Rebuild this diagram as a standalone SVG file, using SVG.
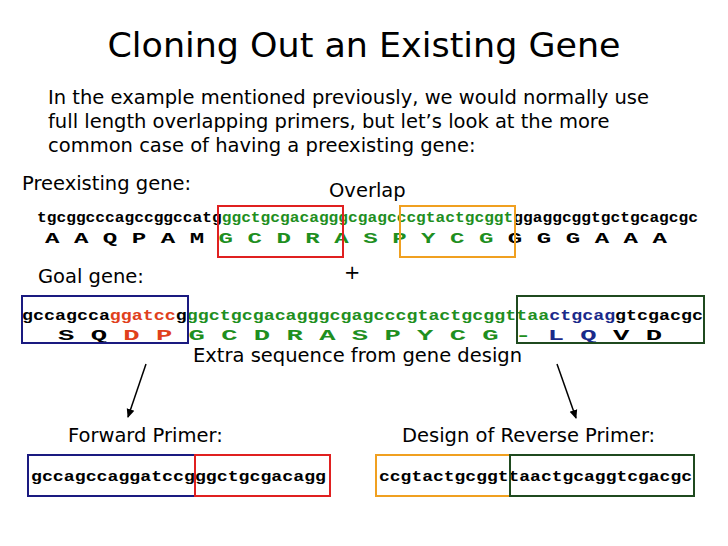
<svg xmlns="http://www.w3.org/2000/svg" width="728" height="546" viewBox="0 0 728 546">
<style>
.s{font-family:"DejaVu Sans","Open Sans",sans-serif;fill:#000}
.m{font-family:"Liberation Mono","Courier New",monospace;font-weight:bold;font-size:15px}
.g{fill:#1f8f1f}.r{fill:#e0401c}.b{fill:#1a2a8a}.k{fill:#000}
.bx{fill:none;stroke-width:2}
</style>
<defs><marker id="ah" markerWidth="10" markerHeight="10" refX="8" refY="5" orient="auto" markerUnits="userSpaceOnUse"><path d="M0,1 L9,5 L0,9 z" fill="#000"/></marker></defs>
<rect width="728" height="546" fill="#fff"/>
<text class="s" x="364" y="57" font-size="33" text-anchor="middle" textLength="513" lengthAdjust="spacingAndGlyphs">Cloning Out an Existing Gene</text>
<g class="s" font-size="19.5">
<text x="48" y="104">In the example mentioned previously, we would normally use</text>
<text x="48" y="128">full length overlapping primers, but let’s look at the more</text>
<text x="48" y="152">common case of having a preexisting gene:</text>
<text x="22" y="190">Preexisting gene:</text>
<text x="329" y="197">Overlap</text>
<text x="344" y="279">+</text>
<text x="38" y="283">Goal gene:</text>
<text x="193" y="362">Extra sequence from gene design</text>
<text x="68" y="442">Forward Primer:</text>
<text x="402" y="442">Design of Reverse Primer:</text>
</g>
<g id="preexisting">
<text class="m" x="37" y="222" textLength="661" lengthAdjust="spacingAndGlyphs"><tspan class="k">tgcggcccagccggccatg</tspan><tspan class="g">ggctgcgacagggcgagcccgtactgcggt</tspan><tspan class="k">ggaggcggtgctgcagcgc</tspan></text>
<text class="m" x="45" y="243" textLength="622" lengthAdjust="spacingAndGlyphs"><tspan class="k">A  A  Q  P  A  M  </tspan><tspan class="g">G  C  D  R  A  S  P  Y  C  G  </tspan><tspan class="k">G  G  G  A  A  A</tspan></text>
<rect class="bx" x="218" y="206" width="125" height="51" stroke="#e02020"/>
<rect class="bx" x="400" y="206" width="115" height="51" stroke="#f0a020"/>
</g>
<g id="goal">
<text class="m" x="22" y="320" textLength="681" lengthAdjust="spacingAndGlyphs"><tspan class="k">gccagcca</tspan><tspan class="r">ggatcc</tspan><tspan class="k">g</tspan><tspan class="g">ggctgcgacagggcgagcccgtactgcggttaa</tspan><tspan class="b">ctgcag</tspan><tspan class="k">gtcgacgc</tspan></text>
<text class="m" x="58" y="340" textLength="604" lengthAdjust="spacingAndGlyphs"><tspan class="k">S  Q  </tspan><tspan class="r">D  P  </tspan><tspan class="g">G  C  D  R  A  S  P  Y  C  G  -  </tspan><tspan class="b">L  Q  </tspan><tspan class="k">V  D</tspan></text>
<rect class="bx" x="22" y="296" width="166" height="47" stroke="#1a1a80"/>
<rect class="bx" x="517" y="296" width="187" height="47" stroke="#1f4a1f"/>
</g>
<g id="connectors" stroke="#000" stroke-width="1.5">
<line x1="146" y1="364" x2="128" y2="417" marker-end="url(#ah)"/>
<line x1="557" y1="364" x2="576" y2="418" marker-end="url(#ah)"/>
</g>
<g id="forward">
<text class="m k" x="31" y="481" textLength="295" lengthAdjust="spacingAndGlyphs">gccagccaggatccgggctgcgacagg</text>
<rect class="bx" x="28" y="455" width="167" height="41" stroke="#1a1a80"/>
<rect class="bx" x="195" y="455" width="135" height="41" stroke="#e02020"/>
</g>
<g id="reverse">
<text class="m k" x="379" y="481" textLength="313" lengthAdjust="spacingAndGlyphs">ccgtactgcggttaactgcaggtcgacgc</text>
<rect class="bx" x="376" y="455" width="134" height="41" stroke="#f0a020"/>
<rect class="bx" x="510" y="455" width="184" height="41" stroke="#1f4a1f"/>
</g>
</svg>
